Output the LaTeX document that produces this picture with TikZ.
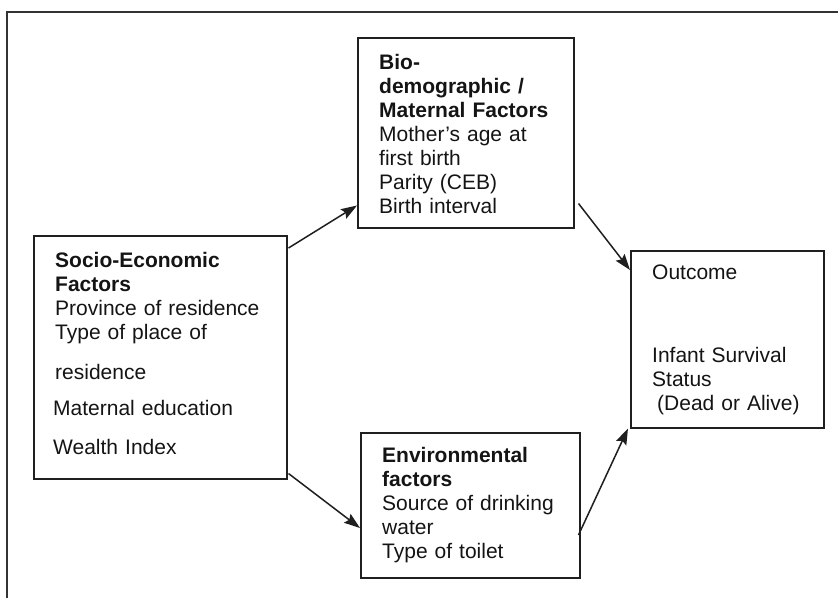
\documentclass[tikz,border=0pt]{standalone}
\usepackage{fontspec}
\setmainfont{Liberation Sans}
\usetikzlibrary{arrows.meta,calc}

\begin{document}
\begin{tikzpicture}[
  x=1pt, y=-1pt,
  ink/.style={draw=black!88, line width=1.5pt},
  box/.style={ink, inner sep=0pt, anchor=north west, fill=none},
  txt/.style={inner sep=0pt, anchor=base west, text width=240pt, align=left,
              text=black!92, font=\fontsize{21pt}{24pt}\selectfont},
  link/.style={ink, -{Stealth[length=16pt,width=11pt,inset=2.5pt]}},
]
\useasboundingbox (0,0) rectangle (838,598);

% outer frame (top and left rules)
\coordinate (frameTL) at (7,12);
\coordinate (frameTR) at (838,12);
\coordinate (frameBL) at (7,598);
\draw[draw=black!80, line width=1.4pt] (frameTR) -- (frameTL) -- (frameBL);

% boxes
\node[box, minimum width=253pt, minimum height=243pt] (socio) at (33,235) {};
\node[box, minimum width=216pt, minimum height=190pt] (bio) at (357,37) {};
\node[box, minimum width=219pt, minimum height=145pt] (env) at (360,432) {};
\node[box, minimum width=193pt, minimum height=177pt] (outcome) at (630,250) {};

% box texts
\node[txt] (socioText) at (55,267) {%
  \textbf{Socio-Economic}\\
  \textbf{Factors}\\
  Province of residence\\
  Type of place of\\[16pt]
  residence\\[12pt]
  \hspace*{-2pt}Maternal education\\[15pt]
  \hspace*{-2pt}Wealth Index};

\node[txt] (bioText) at (379,69) {%
  \textbf{Bio-}\\
  \textbf{demographic /}\\
  \textbf{Maternal Factors}\\
  Mother's age at\\
  first birth\\
  Parity (CEB)\\
  Birth interval};

\node[txt] (envText) at (382,462) {%
  \textbf{Environmental}\\
  \textbf{factors}\\
  Source of drinking\\
  water\\
  Type of toilet};

\node[txt] (outcomeText) at (652,279) {%
  Outcome\\[59pt]
  Infant Survival\\
  Status\\
  \hspace*{5pt}(Dead or Alive)};

% connectors
\draw[link] ($(socio.north east)+(1pt,-13pt)$) -- ($(bio.south west)+(0pt,23pt)$);
\draw[link] ($(socio.south east)+(1pt,6pt)$) -- ($(env.north west)+(0pt,-96pt)$);
\draw[link] ($(bio.south east)+(4pt,25pt)$) -- ($(outcome.north west)+(0pt,-20pt)$);
\draw[link] ($(env.north east)+(-2pt,-103pt)$) -- ($(outcome.south west)+(-2pt,0pt)$);
\end{tikzpicture}
\end{document}
